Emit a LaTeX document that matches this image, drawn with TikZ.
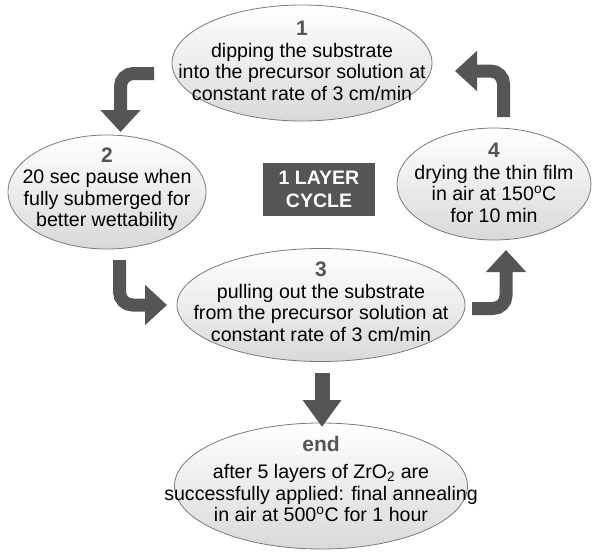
\documentclass[tikz,border=0pt]{standalone}
\usepackage{fontspec}
\setmainfont{Liberation Sans}
\usetikzlibrary{shapes.geometric,arrows.meta}
\definecolor{dg}{HTML}{555555}
\definecolor{edge}{HTML}{7A7A7A}
\tikzset{
  oval/.style={ellipse, draw=edge, line width=0.8pt, top color=white, bottom color=gray!30, inner sep=0pt},
  txt/.style={align=center, inner sep=0pt, font=\fontsize{19.6}{21.5}\selectfont},
  bigarrow/.style={draw=dg, line width=13pt, rounded corners=13pt, -{Triangle[width=39pt,length=22pt]}},
  cyclebox/.style={fill=dg, text=white, align=center, inner sep=0pt, minimum width=112pt, minimum height=53pt, font=\bfseries\fontsize{19.5}{23}\selectfont}
}
\newcommand{\stepnum}[1]{{\bfseries\color{dg}\fontsize{21}{21.5}\selectfont #1}}
\begin{document}
\begin{tikzpicture}[x=1pt,y=-1pt]
\path[use as bounding box, fill=white] (0,0) rectangle (592,552);
% ellipses
\node[oval, minimum width=260pt, minimum height=116pt] (e1) at (302,63) {};
\node[oval, minimum width=198pt, minimum height=114pt] (e2) at (107,192) {};
\node[oval, minimum width=194pt, minimum height=112pt] (e4) at (494,184) {};
\node[oval, minimum width=288pt, minimum height=113pt] (e3) at (321,305) {};
\node[oval, minimum width=293pt, minimum height=126pt] (e5) at (321,486) {};
% texts
\node[txt] (t1) at (302,61) {\stepnum{1}\\dipping the substrate\\into the precursor solution at\\constant rate of 3 cm/min};
\node[txt] (t2) at (107,189) {\stepnum{2}\\20 sec pause when\\fully submerged for\\better wettability};
\node[txt] (t4) at (494,183) {\stepnum{4}\\drying the thin film\\in air at 150\textsuperscript{o}C\\for 10 min};
\node[txt] (t3) at (321,302) {\stepnum{3}\\pulling out the substrate\\from the precursor solution at\\constant rate of 3 cm/min};
\node[txt] (t5) at (321,479) {\stepnum{end}\\[6pt]after 5 layers of ZrO\textsubscript{2} are\\successfully applied: final annealing\\in air at 500\textsuperscript{o}C for 1 hour};
% cycle box
\node[cyclebox] (cyc) at (319,189.5) {1 LAYER\\CYCLE};
% arrows
\coordinate (a1s) at (154,73.5);
\coordinate (a1c) at (120.5,73.5);
\coordinate (a1e) at (120.5,132);
\draw[bigarrow] (a1s) -- (a1c) -- (a1e);
\coordinate (a2s) at (119.5,260);
\coordinate (a2c) at (119.5,305);
\coordinate (a2e) at (167,305);
\draw[bigarrow] (a2s) -- (a2c) -- (a2e);
\coordinate (a3s) at (472,308.5);
\coordinate (a3c) at (506,308.5);
\coordinate (a3e) at (506,250);
\draw[bigarrow] (a3s) -- (a3c) -- (a3e);
\coordinate (a4s) at (503.5,117);
\coordinate (a4c) at (503.5,71);
\coordinate (a4e) at (455,71);
\draw[bigarrow] (a4s) -- (a4c) -- (a4e);
\coordinate (a5s) at (322,373);
\coordinate (a5e) at (322,427);
\draw[bigarrow, line width=15pt, -{Triangle[width=37pt,length=27pt]}] (a5s) -- (a5e);
\end{tikzpicture}
\end{document}
